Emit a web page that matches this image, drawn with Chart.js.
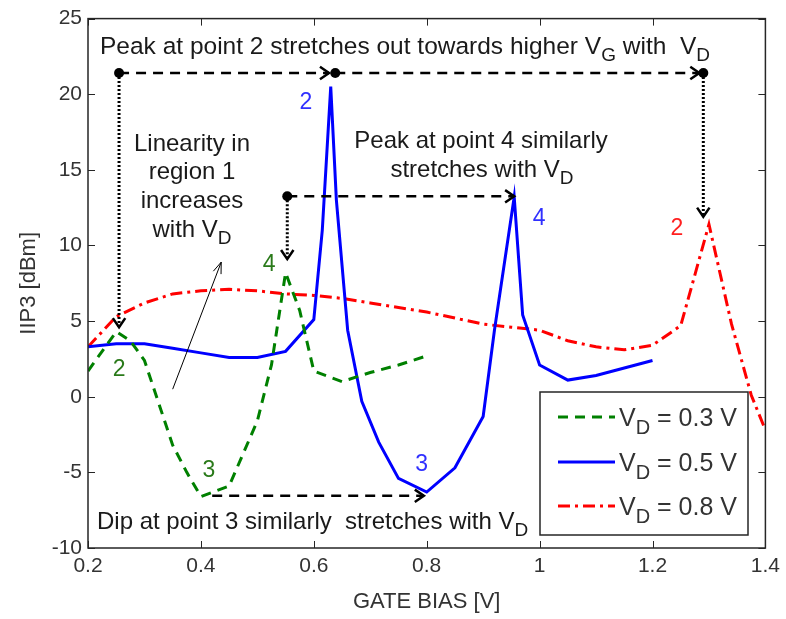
<!DOCTYPE html>
<html>
<head>
<meta charset="utf-8">
<script src="https://cdn.jsdelivr.net/npm/chart.js@4/dist/chart.umd.min.js"></script>
<style>
  html, body { margin: 0; padding: 0; background: #fff; }
  #wrap { width: 786px; height: 619px; }
</style>
</head>
<body>
<div id="wrap"><canvas id="chart" width="786" height="619"></canvas></div>
<script>
// IIP3 vs gate bias for three drain voltages
const gateBias03 = [0.2, 0.25, 0.275, 0.3, 0.35, 0.375, 0.4, 0.45, 0.5, 0.525, 0.55, 0.575, 0.6, 0.65, 0.7, 0.75, 0.8];
const iip3_03    = [1.7, 4.3, 3.7, 2.4, -3.2, -5.0, -6.6, -5.9, -1.6, 2.1, 8.2, 5.7, 1.7, 1.0, 1.6, 2.1, 2.7];

const gateBias05 = [0.2, 0.25, 0.3, 0.35, 0.4, 0.45, 0.5, 0.55, 0.6, 0.615, 0.63, 0.64, 0.66, 0.685, 0.715, 0.75, 0.8, 0.85, 0.9, 0.92, 0.955, 0.97, 1.0, 1.05, 1.1, 1.15, 1.2];
const iip3_05    = [3.3, 3.5, 3.5, 3.2, 2.9, 2.6, 2.6, 3.0, 5.1, 11.0, 20.5, 13.0, 4.4, -0.3, -3.0, -5.4, -6.3, -4.7, -1.3, 4.4, 13.2, 5.4, 2.1, 1.1, 1.4, 1.9, 2.4];

const gateBias08 = [0.2, 0.25, 0.3, 0.35, 0.4, 0.45, 0.5, 0.55, 0.6, 0.65, 0.7, 0.75, 0.8, 0.85, 0.9, 0.95, 1.0, 1.05, 1.1, 1.15, 1.2, 1.25, 1.3, 1.34, 1.375, 1.4];
const iip3_08    = [3.3, 5.3, 6.2, 6.8, 7.0, 7.1, 7.0, 6.8, 6.7, 6.5, 6.2, 5.9, 5.6, 5.2, 4.8, 4.6, 4.4, 3.7, 3.3, 3.1, 3.4, 4.7, 11.4, 4.8, 0.1, -2.2];

const seriesLabels = ['0.3 V', '0.5 V', '0.8 V'];
const xTicks = [0.2, 0.4, 0.6, 0.8, 1, 1.2, 1.4];
const yTicks = [-10, -5, 0, 5, 10, 15, 20, 25];

const GREEN = '#008000';
const BLUE = '#0000ff';
const RED = '#ff0000';
const FONT = '"Liberation Sans", Arial, sans-serif';

const toPoints = (xs, ys) => xs.map((x, i) => ({ x: x, y: ys[i] }));

// draws text where parts may carry a subscript flag
function richText(ctx, parts, x, y, size, align) {
  const subSize = Math.round(size * 0.78);
  let total = 0;
  parts.forEach(p => {
    ctx.font = (p[1] ? subSize : size) + 'px ' + FONT;
    total += ctx.measureText(p[0]).width;
  });
  let cx = align === 'center' ? x - total / 2 : (align === 'right' ? x - total : x);
  ctx.textAlign = 'left';
  ctx.textBaseline = 'alphabetic';
  parts.forEach(p => {
    ctx.font = (p[1] ? subSize : size) + 'px ' + FONT;
    ctx.fillText(p[0], cx, p[1] ? y + size * 0.3 : y);
    cx += ctx.measureText(p[0]).width;
  });
}

function arrowHead(ctx, x, y, ang) {
  const len = 11, spread = 0.6;
  ctx.save();
  ctx.setLineDash([]);
  ctx.lineWidth = 2.5;
  ctx.beginPath();
  ctx.moveTo(x - len * Math.cos(ang - spread), y - len * Math.sin(ang - spread));
  ctx.lineTo(x, y);
  ctx.lineTo(x - len * Math.cos(ang + spread), y - len * Math.sin(ang + spread));
  ctx.stroke();
  ctx.restore();
}

function dot(ctx, x, y) {
  ctx.beginPath();
  ctx.arc(x, y, 5, 0, Math.PI * 2);
  ctx.fill();
}

const matlabFrame = {
  id: 'matlabFrame',
  afterDatasetsDraw(chart) {
    const ctx = chart.ctx;
    const a = chart.chartArea;
    const xs = chart.scales.x, ys = chart.scales.y;
    ctx.save();
    ctx.strokeStyle = '#262626';
    ctx.lineWidth = 1.5;
    ctx.strokeRect(a.left, a.top, a.right - a.left, a.bottom - a.top);
    ctx.lineWidth = 1;
    xTicks.forEach(v => {
      const p = Math.round(xs.getPixelForValue(v)) + 0.5;
      ctx.beginPath();
      ctx.moveTo(p, a.bottom); ctx.lineTo(p, a.bottom - 7);
      ctx.moveTo(p, a.top); ctx.lineTo(p, a.top + 7);
      ctx.stroke();
    });
    yTicks.forEach(v => {
      const p = Math.round(ys.getPixelForValue(v)) + 0.5;
      ctx.beginPath();
      ctx.moveTo(a.left, p); ctx.lineTo(a.left + 7, p);
      ctx.moveTo(a.right, p); ctx.lineTo(a.right - 7, p);
      ctx.stroke();
    });
    ctx.restore();
  }
};

const annotations = {
  id: 'annotations',
  afterDatasetsDraw(chart) {
    const ctx = chart.ctx;
    const X = v => chart.scales.x.getPixelForValue(v);
    const Y = v => chart.scales.y.getPixelForValue(v);
    ctx.save();
    ctx.strokeStyle = '#000';
    ctx.fillStyle = '#000';

    // peak 2 arrows along the top
    ctx.lineWidth = 2.5;
    ctx.setLineDash([10, 7]);
    ctx.beginPath();
    ctx.moveTo(X(0.255), Y(21.4)); ctx.lineTo(X(0.627), Y(21.4));
    ctx.moveTo(X(0.638), Y(21.4)); ctx.lineTo(X(1.283), Y(21.4));
    ctx.stroke();
    arrowHead(ctx, X(0.627), Y(21.4), 0);
    arrowHead(ctx, X(1.283), Y(21.4), 0);

    // peak 4 arrow
    ctx.setLineDash([10, 7]);
    ctx.beginPath();
    ctx.moveTo(X(0.553), Y(13.25)); ctx.lineTo(X(0.955), Y(13.25));
    ctx.stroke();
    arrowHead(ctx, X(0.955), Y(13.25), 0);

    // dip 3 arrow
    ctx.setLineDash([10, 7]);
    ctx.beginPath();
    ctx.moveTo(X(0.42), Y(-6.55)); ctx.lineTo(X(0.795), Y(-6.55));
    ctx.stroke();
    arrowHead(ctx, X(0.795), Y(-6.55), 0);

    // dotted drops
    ctx.lineWidth = 3;
    ctx.setLineDash([2, 2]);
    ctx.beginPath();
    ctx.moveTo(X(0.255), Y(21.4)); ctx.lineTo(X(0.255), Y(4.6));
    ctx.moveTo(X(1.29), Y(21.4)); ctx.lineTo(X(1.29), Y(11.9));
    ctx.moveTo(X(0.553), Y(13.25)); ctx.lineTo(X(0.553), Y(9.1));
    ctx.stroke();
    arrowHead(ctx, X(0.255), Y(4.6), Math.PI / 2);
    arrowHead(ctx, X(1.29), Y(11.9), Math.PI / 2);
    arrowHead(ctx, X(0.553), Y(9.1), Math.PI / 2);

    ctx.setLineDash([]);
    dot(ctx, X(0.255), Y(21.4));
    dot(ctx, X(0.638), Y(21.4));
    dot(ctx, X(1.29), Y(21.4));
    dot(ctx, X(0.553), Y(13.25));

    // thin arrow for region 1
    ctx.lineWidth = 1;
    const x1 = X(0.35), y1 = Y(0.5), x2 = X(0.436), y2 = Y(8.9);
    ctx.beginPath();
    ctx.moveTo(x1, y1); ctx.lineTo(x2, y2);
    ctx.stroke();
    const ang = Math.atan2(y2 - y1, x2 - x1);
    ctx.beginPath();
    ctx.moveTo(x2 - 12 * Math.cos(ang - 0.35), y2 - 12 * Math.sin(ang - 0.35));
    ctx.lineTo(x2, y2);
    ctx.lineTo(x2 - 12 * Math.cos(ang + 0.35), y2 - 12 * Math.sin(ang + 0.35));
    ctx.stroke();

    // annotation text
    ctx.fillStyle = '#1a1a1a';
    richText(ctx, [['Peak at point 2 stretches out towards higher V'], ['G', 1], [' with  V'], ['D', 1]], 100, 54, 24.5, 'left');
    richText(ctx, [['Linearity in']], 192, 151, 24, 'center');
    richText(ctx, [['region 1']], 192, 179, 24, 'center');
    richText(ctx, [['increases']], 192, 208, 24, 'center');
    richText(ctx, [['with V'], ['D', 1]], 192, 237, 24, 'center');
    richText(ctx, [['Peak at point 4 similarly']], 481, 148, 24, 'center');
    richText(ctx, [['stretches with V'], ['D', 1]], 482, 177, 24, 'center');
    richText(ctx, [['Dip at point 3 similarly  stretches with V'], ['D', 1]], 97, 529, 24, 'left');

    // point numbers
    const nums = [
      ['2', 0.255, 1.8, '#2a7a1a'], ['3', 0.414, -4.9, '#2a7a1a'], ['4', 0.521, 8.7, '#2a7a1a'],
      ['2', 0.586, 19.45, '#3030ff'], ['3', 0.791, -4.5, '#3030ff'], ['4', 0.999, 11.75, '#3030ff'],
      ['2', 1.243, 11.1, '#ff2020']
    ];
    ctx.font = '23px ' + FONT;
    ctx.textAlign = 'center';
    ctx.textBaseline = 'middle';
    nums.forEach(n => {
      ctx.fillStyle = n[3];
      ctx.fillText(n[0], X(n[1]), Y(n[2]));
    });

    // legend box
    const lx = 540, ly = 392, lw = 208, lh = 143;
    ctx.fillStyle = '#fff';
    ctx.fillRect(lx, ly, lw, lh);
    ctx.strokeStyle = '#262626';
    ctx.lineWidth = 1.5;
    ctx.strokeRect(lx, ly, lw, lh);
    const rows = [
      { color: GREEN, dash: [10, 7], y: 417 },
      { color: BLUE, dash: [], y: 462 },
      { color: RED, dash: [12, 5, 3, 5], y: 506 }
    ];
    rows.forEach((r, i) => {
      ctx.strokeStyle = r.color;
      ctx.lineWidth = 3;
      ctx.setLineDash(r.dash);
      ctx.beginPath();
      ctx.moveTo(558, r.y); ctx.lineTo(615, r.y);
      ctx.stroke();
      ctx.setLineDash([]);
      ctx.fillStyle = '#333';
      richText(ctx, [['V'], ['D', 1], [' = ' + seriesLabels[i]]], 619, r.y + 9, 25, 'left');
    });
    ctx.restore();
  }
};

const tickFont = { family: FONT, size: 21 };

new Chart(document.getElementById('chart'), {
  type: 'line',
  data: {
    datasets: [
      {
        label: 'VD = 0.3 V',
        data: toPoints(gateBias03, iip3_03),
        borderColor: GREEN,
        borderWidth: 3,
        borderDash: [10, 7],
        pointRadius: 0,
        tension: 0,
        fill: false
      },
      {
        label: 'VD = 0.5 V',
        data: toPoints(gateBias05, iip3_05),
        borderColor: BLUE,
        borderWidth: 3,
        pointRadius: 0,
        tension: 0,
        fill: false
      },
      {
        label: 'VD = 0.8 V',
        data: toPoints(gateBias08, iip3_08),
        borderColor: RED,
        borderWidth: 3,
        borderDash: [12, 5, 3, 5],
        pointRadius: 0,
        tension: 0,
        fill: false
      }
    ]
  },
  options: {
    responsive: false,
    animation: false,
    layout: { padding: { top: 12, right: 18, left: 0, bottom: 0 } },
    plugins: {
      legend: { display: false },
      tooltip: { enabled: false }
    },
    scales: {
      x: {
        type: 'linear',
        min: 0.2,
        max: 1.4,
        afterBuildTicks: s => { s.ticks = xTicks.map(v => ({ value: v })); },
        afterFit: s => { s.height = 71; },
        grid: { display: false, drawTicks: false },
        border: { display: false },
        ticks: {
          color: '#333',
          font: tickFont,
          padding: 6,
          maxRotation: 0,
          callback: v => String(+v.toFixed(1))
        },
        title: {
          display: true,
          text: 'GATE BIAS [V]',
          color: '#333',
          font: { family: FONT, size: 22 },
          padding: { top: 2 }
        }
      },
      y: {
        min: -10,
        max: 25,
        afterBuildTicks: s => { s.ticks = yTicks.map(v => ({ value: v })); },
        afterFit: s => { s.width = 88; },
        grid: { display: false, drawTicks: false },
        border: { display: false },
        ticks: {
          color: '#333',
          font: tickFont,
          padding: 6
        },
        title: {
          display: true,
          text: 'IIP3 [dBm]',
          color: '#333',
          font: { family: FONT, size: 22 },
          padding: { top: 16, bottom: 0 }
        }
      }
    }
  },
  plugins: [matlabFrame, annotations]
});
</script>
</body>
</html>
